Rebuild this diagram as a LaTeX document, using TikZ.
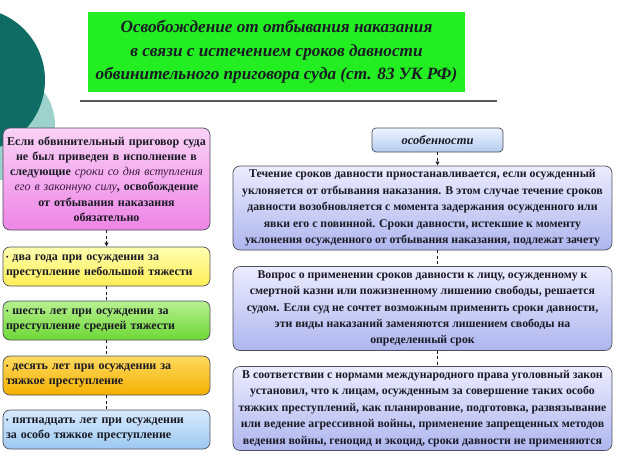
\documentclass[tikz,border=0pt]{standalone}
\usepackage{fontspec}
\setmainfont{Liberation Serif}
\usetikzlibrary{arrows.meta,positioning}
\definecolor{ink}{HTML}{1A1A24}
\definecolor{boxline}{HTML}{4E4E5C}
\definecolor{rulegray}{HTML}{5A5A5A}
\definecolor{tealdark}{HTML}{0F6C64}
\definecolor{teallight}{HTML}{9DD2CC}
\definecolor{titlegreen}{HTML}{22EE22}
\definecolor{pinkI}{HTML}{FAD2F6}
\definecolor{pinkII}{HTML}{EE84E6}
\definecolor{yellowI}{HTML}{FFFFB0}
\definecolor{yellowII}{HTML}{FFEE55}
\definecolor{greenI}{HTML}{B8F090}
\definecolor{greenII}{HTML}{6CD836}
\definecolor{orangeI}{HTML}{FFDA60}
\definecolor{orangeII}{HTML}{F4B000}
\definecolor{blueI}{HTML}{D8EAFF}
\definecolor{blueII}{HTML}{9CC8F0}
\definecolor{lavI}{HTML}{ECECFF}
\definecolor{lavII}{HTML}{AEB6EE}
\definecolor{tagI}{HTML}{EEF4FF}
\definecolor{tagII}{HTML}{B4CCF0}
\definecolor{italink}{HTML}{3A1A40}
\newcommand{\bul}{{\scriptsize\raisebox{0.25ex}{•}}\ }

\begin{document}
\begin{tikzpicture}[x=1pt,y=-1pt,
  box/.style={draw=boxline,rounded corners=7pt,line width=0.7pt,inner xsep=3pt,inner ysep=1pt,
    text=ink,font=\bfseries\fontsize{12}{15.2}\selectfont},
  leftbox/.style={box,minimum width=207pt,minimum height=39pt,text width=201pt,align=left},
  featbox/.style={box,minimum width=379pt,minimum height=84pt,align=center,
    top color=lavI,bottom color=lavII,font=\bfseries\fontsize{11.8}{16.4}\selectfont},
  link/.style={draw=ink,line width=1.1pt,dash pattern=on 3pt off 2.5pt},
  tip/.style={-{Latex[length=4pt,width=4.5pt]}}]
\useasboundingbox (0,0) rectangle (623,464);
% corner decoration
\begin{scope}
\clip (0,0) rectangle (623,464);
\fill[teallight] (0,125) circle (55);
\fill[tealdark] (-27,80) circle (72);
\end{scope}
% title
\node[fill=titlegreen,minimum width=377pt,minimum height=80pt,inner sep=2pt,align=center,
  text=ink,font=\bfseries\itshape\fontsize{17.2}{23.5}\selectfont] (title) at (276.5,52)
  {Освобождение от отбывания наказания\\в связи с истечением сроков давности\\обвинительного приговора суда (ст. 83 УК РФ)};
\coordinate (ruleL) at (80,101);
\coordinate (ruleR) at (497,101);
\draw[rulegray,line width=1.2pt] (ruleL) -- (ruleR);
% left column: terms
\node[leftbox,minimum height=102pt,align=center,top color=pinkI,bottom color=pinkII] (cond) at (106.5,179)
  {Если обвинительный приговор суда\\не был приведен в исполнение в\\следующие {\mdseries\itshape\color{italink}сроки со дня вступления\\его в законную силу}, освобождение\\от отбывания наказания\\обязательно};
\node[leftbox,top color=yellowI,bottom color=yellowII] (small) at (106.5,266.5)
  {\bul два года при осуждении за\\преступление небольшой тяжести};
\node[leftbox,top color=greenI,bottom color=greenII] (medium) at (106.5,320.5)
  {\bul шесть лет при осуждении за\\преступление средней тяжести};
\node[leftbox,top color=orangeI,bottom color=orangeII] (grave) at (106.5,375.5)
  {\bul десять лет при осуждении за\\тяжкое преступление};
\node[leftbox,top color=blueI,bottom color=blueII] (vgrave) at (106.5,429.5)
  {\bul пятнадцать лет при осуждении\\за особо тяжкое преступление};
% right column: features
\node[box,rounded corners=4pt,minimum width=131pt,minimum height=24pt,top color=tagI,bottom color=tagII,
  font=\bfseries\itshape\fontsize{12.5}{14}\selectfont] (feat) at (437.5,140) {особенности};
\node[featbox] (suspend) at (422.5,208)
  {Течение сроков давности приостанавливается, если осужденный\\уклоняется от отбывания наказания. В этом случае течение сроков\\давности возобновляется с момента задержания осужденного или\\явки его с повинной. Сроки давности, истекшие к моменту\\уклонения осужденного от отбывания наказания, подлежат зачету};
\node[featbox] (death) at (422.5,308.5)
  {Вопрос о применении сроков давности к лицу, осужденному к\\смертной казни или пожизненному лишению свободы, решается\\судом. Если суд не сочтет возможным применить сроки давности,\\эти виды наказаний заменяются лишением свободы на\\определенный срок};
\node[featbox] (intl) at (422.5,408.5)
  {В соответствии с нормами международного права уголовный закон\\установил, что к лицам, осужденным за совершение таких особо\\тяжких преступлений, как планирование, подготовка, развязывание\\или ведение агрессивной войны, применение запрещенных методов\\ведения войны, геноцид и экоцид, сроки давности не применяются};
% connectors
\draw[link,tip] (cond) -- (small);
\draw[link] (small) -- (medium);
\draw[link] (medium) -- (grave);
\draw[link] (grave) -- (vgrave);
\draw[link,tip] (feat.south) -- (feat.south |- suspend.north);
\draw[link] (suspend.south -| feat) -- (death.north -| feat);
\draw[link] (death.south -| feat) -- (intl.north -| feat);
\end{tikzpicture}
\end{document}
